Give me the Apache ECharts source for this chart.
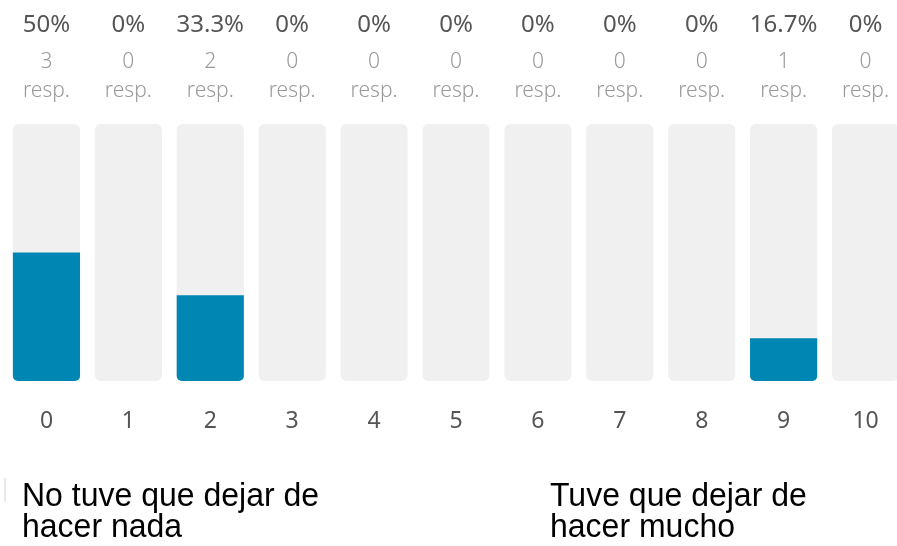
<!DOCTYPE html>
<html>
<head>
<meta charset="utf-8">
<script src="https://cdn.jsdelivr.net/npm/echarts@6/dist/echarts.min.js"></script>
<style>
  html, body { margin: 0; padding: 0; background: #fff; }
  #main { width: 897px; height: 546px; }
</style>
</head>
<body>
<div id="main"></div>
<script>
const categories = ['0', '1', '2', '3', '4', '5', '6', '7', '8', '9', '10']
const responses = [3, 0, 2, 0, 0, 0, 0, 0, 0, 1, 0]
const leftNote = ['No tuve que dejar de', 'hacer nada']
const rightNote = ['Tuve que dejar de', 'hacer mucho']

const total = responses.reduce((a, b) => a + b, 0)
function pct(n) {
  const v = Math.round(n / total * 1000) / 10
  return v + '%'
}

// one text element per line, slightly stretched vertically like the original
function noteLines(lines, x) {
  return lines.map((t, i) => ({
    type: 'text',
    x: x,
    y: 496.3 + i * 31,
    scaleY: 1.05,
    style: {
      text: t,
      font: '32px "Liberation Sans", Arial, sans-serif',
      verticalAlign: 'middle',
      fill: '#000',
    },
  }))
}

const chart = echarts.init(document.getElementById('main'), null, { renderer: 'canvas' })
chart.setOption({
  animation: false,
  grid: { left: 5.5, width: 901, top: 124, bottom: 165, outerBoundsMode: 'none' },
  xAxis: [
    {
      type: 'category',
      data: categories,
      axisLine: { show: false },
      axisTick: { show: false },
      axisLabel: { margin: 29, fontSize: 23, color: '#555', fontFamily: 'Noto Sans' },
    },
    {
      // top labels: percentage, count, "resp."
      type: 'category',
      position: 'top',
      data: categories,
      axisLine: { show: false },
      axisTick: { show: false },
      axisLabel: {
        margin: 19,
        interval: 0,
        fontFamily: 'Noto Sans',
        formatter: (v, i) => `{p|${pct(responses[i])}}\n{n|${responses[i]}}\n{r|resp.}`,
        rich: {
          p: { fontSize: 24, color: '#555', lineHeight: 46, fontFamily: 'Noto Sans' },
          n: { fontSize: 21, color: '#999', lineHeight: 28.5, fontFamily: 'Noto Sans', fontWeight: 300 },
          r: { fontSize: 21, color: '#999', lineHeight: 28.5, fontFamily: 'Noto Sans', fontWeight: 300 },
        },
      },
    },
  ],
  yAxis: { type: 'value', min: 0, max: 6, show: false },
  series: [
    {
      name: 'resp',
      type: 'bar',
      data: responses,
      barWidth: '82%',
      showBackground: true,
      backgroundStyle: { color: '#f0f0f0', borderRadius: 6 },
      itemStyle: { color: '#0086b3', borderRadius: [0, 0, 5, 5] },
    },
  ],
  graphic: [
    { type: 'rect', left: 4, top: 478, shape: { width: 2, height: 24 }, style: { fill: '#e8e8e8' } },
    ...noteLines(leftNote, 22),
    ...noteLines(rightNote, 550),
  ],
})
</script>
</body>
</html>
